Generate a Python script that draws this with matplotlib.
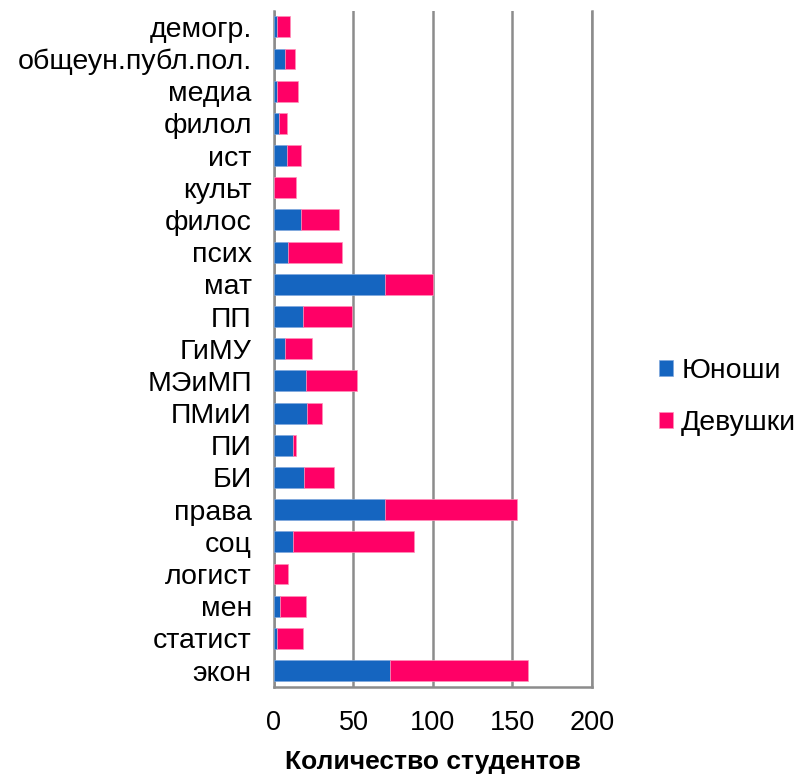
import matplotlib
matplotlib.use("Agg")
import matplotlib.pyplot as plt
import numpy as np

plt.rcParams['font.family'] = ['Liberation Sans', 'DejaVu Sans']

categories = ["экон", "статист", "мен", "логист", "соц", "права", "БИ", "ПИ",
              "ПМиИ", "МЭиМП", "ГиМУ", "ПП", "мат", "псих", "филос", "культ",
              "ист", "филол", "медиа", "общеун.публ.пол.", "демогр."]
boys = [73, 2, 4, 0, 12, 70, 19, 12, 21, 20, 7, 18, 70, 9, 17, 0, 8, 3, 2, 7, 2]
girls = [87, 16, 16, 9, 76, 83, 19, 2, 9, 32, 17, 31, 30, 34, 24, 14, 9, 5, 13, 6, 8]
series_names = ["Юноши", "Девушки"]
x_ticks = [0, 50, 100, 150, 200]
x_label = "Количество студентов"

blue = '#1565C0'
pink = '#FF0066'
grid_c = '#8C8C8C'

fig = plt.figure(figsize=(8.04, 7.75), dpi=100)
ax = fig.add_axes([274/804, 1-686.7/775, (592-274)/804, (686.7-10.7)/775])

y = np.arange(len(categories))
ax.barh(y, boys, height=0.65, color=blue, label=series_names[0], zorder=3,
        edgecolor='#7FA8DD', linewidth=0.5)
ax.barh(y, girls, left=boys, height=0.65, color=pink, label=series_names[1], zorder=3,
        edgecolor='#FF8FB8', linewidth=0.5)

ax.set_xlim(0, 200)
ax.set_ylim(-0.5, len(categories) - 0.5)
ax.set_xticks(x_ticks)
ax.set_yticks(y)
ax.set_yticklabels(categories)
ax.tick_params(axis='y', length=0, pad=16, labelsize=20.5)
ax.tick_params(axis='x', length=0, pad=17, labelsize=19.5)
ax.xaxis.grid(True, color=grid_c, linewidth=1.8, zorder=0)
ax.set_axisbelow(True)
for s in ['top']:
    ax.spines[s].set_visible(False)
for s in ['left', 'bottom', 'right']:
    ax.spines[s].set_color(grid_c)
    ax.spines[s].set_linewidth(1.8)
ax.set_xlabel(x_label, fontsize=19, fontweight='bold', labelpad=10)

leg = fig.legend(loc='center left', bbox_to_anchor=(659/804, 1-397/775),
                 frameon=False, fontsize=20.5, handlelength=0.5, handleheight=0.5,
                 handletextpad=0.28, labelspacing=0.9, borderpad=0, borderaxespad=0)

fig.savefig("out.png", dpi=100)
